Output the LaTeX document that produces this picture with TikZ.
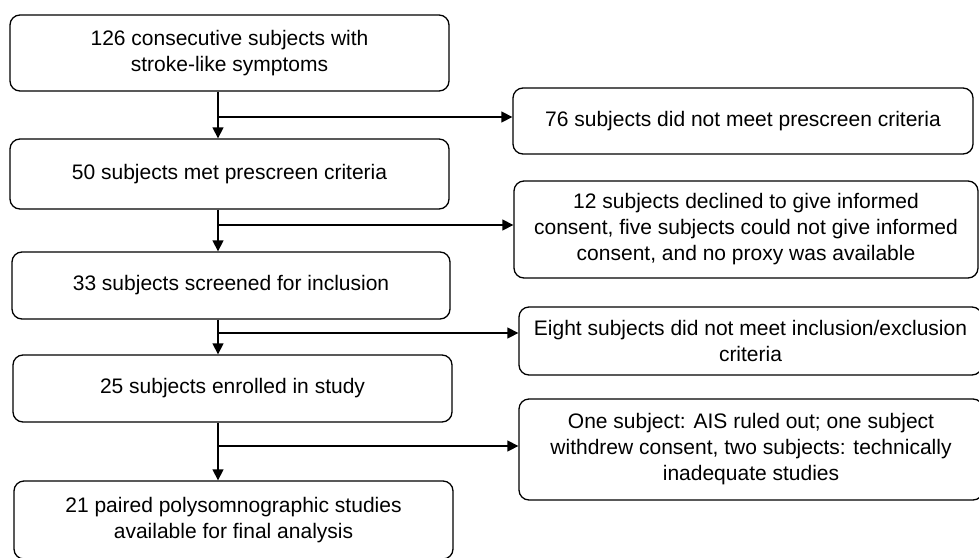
\documentclass[tikz,border=0pt]{standalone}
\usepackage{fontspec}
\setmainfont{Liberation Sans}
\usetikzlibrary{arrows.meta}
\begin{document}
\begin{tikzpicture}[x=1pt,y=-1pt,
  box/.style={draw=black,line width=1.3pt,rounded corners=10pt,inner sep=0pt,
    align=center,font=\fontsize{21}{26}\selectfont},
  arr/.style={line width=1.3pt,-{Triangle[length=11pt,width=11pt]}},
  ln/.style={line width=1.3pt}]
\useasboundingbox (0,0) rectangle (979,557);
\node[box,minimum width=439pt,minimum height=76pt] (b1) at (229.5,53) {126 consecutive subjects with\\stroke-like symptoms};
\node[box,minimum width=439pt,minimum height=70pt] (b2) at (229.5,174) {50 subjects met prescreen criteria};
\node[box,minimum width=438pt,minimum height=67pt] (b3) at (231,285.5) {33 subjects screened for inclusion};
\node[box,minimum width=439pt,minimum height=67pt] (b4) at (232.5,388.5) {25 subjects enrolled in study};
\node[box,minimum width=439pt,minimum height=78pt] (b5) at (233.5,520) {21 paired polysomnographic studies\\available for final analysis};
\node[box,minimum width=460pt,minimum height=66pt] (ra) at (743,121) {76 subjects did not meet prescreen criteria};
\node[box,minimum width=464pt,minimum height=97pt] (rb) at (746,229.5) {12 subjects declined to give informed\\consent, five subjects could not give informed\\consent, and no proxy was available};
\node[box,minimum width=463pt,minimum height=68pt] (rc) at (750.5,341) {Eight subjects did not meet inclusion/exclusion\\criteria};
\node[box,minimum width=464pt,minimum height=101pt] (rd) at (751,449.5) {One subject: AIS ruled out; one subject\\withdrew consent, two subjects: technically\\inadequate studies};
\coordinate (vx) at (218,0);
\coordinate (j1) at (218,117);
\coordinate (j2) at (218,225);
\coordinate (j3) at (218,333);
\coordinate (j4) at (218,446);
\draw[arr] (b1.south -| vx) -- (b2.north -| vx);
\draw[arr] (b2.south -| vx) -- (b3.north -| vx);
\draw[arr] (b3.south -| vx) -- (b4.north -| vx);
\draw[arr] (b4.south -| vx) -- (b5.north -| vx);
\draw[arr] (j1) -- (j1 -| ra.west);
\draw[arr] (j2) -- (j2 -| rb.west);
\draw[arr] (j3) -- (j3 -| rc.west);
\draw[arr] (j4) -- (j4 -| rd.west);
\end{tikzpicture}
\end{document}
